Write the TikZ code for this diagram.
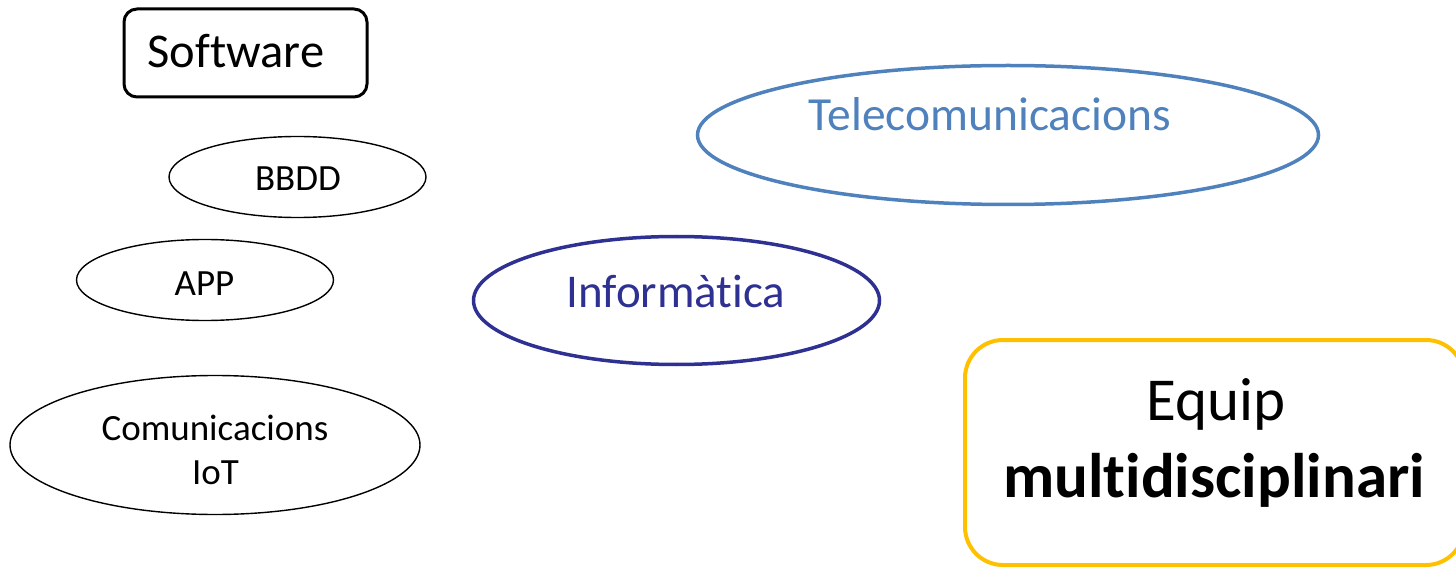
\documentclass[tikz,border=0pt]{standalone}
\usepackage{fontspec}
\setmainfont{Carlito}[Ligatures={NoCommon,NoRare,NoContextual}]
\usetikzlibrary{shapes.geometric}
\definecolor{telblue}{HTML}{4F81BD}
\definecolor{infblue}{HTML}{2E3192}
\definecolor{gold}{HTML}{FFC000}
\tikzset{
  lbl/.style={anchor=base, inner sep=0pt},
  oval/.style={ellipse, draw, inner sep=0pt},
  small/.style={lbl, font=\fontsize{37}{44}\selectfont},
}
\begin{document}
\begin{tikzpicture}[x=1pt, y=-1pt]
\useasboundingbox (0,0) rectangle (1456,569);
% Software box
\draw[line width=3pt, rounded corners=13pt] (124,9) rectangle (367,97);
\node[lbl, anchor=base west, font=\fontsize{48.5}{58}\selectfont] (sw) at (147.5,68) {Software};
% small ellipses
\node[oval, line width=1.4pt, minimum width=257pt, minimum height=81pt] (bbddE) at (297.5,177) {};
\node[small] (bbdd) at (298,191) {BBDD};
\node[oval, line width=1.4pt, minimum width=257pt, minimum height=81pt] (appE) at (205,280) {};
\node[small] (app) at (204.5,295) {APP};
\node[oval, line width=1.4pt, minimum width=410pt, minimum height=139pt] (comE) at (215,445) {};
\node[small] (com) at (215,440.5) {Comunicacions};
\node[small] (iot) at (215.5,484) {IoT};
% Telecomunicacions
\node[oval, draw=telblue, line width=3.5pt, minimum width=621pt, minimum height=139pt] (telE) at (1008,135) {};
\node[lbl, text=telblue, font=\fontsize{47.5}{57}\selectfont] (tel) at (990,131) {Telecomunicacions};
% Informatica
\node[oval, draw=infblue, line width=3.5pt, minimum width=406pt, minimum height=128pt] (infE) at (676.5,300.5) {};
\node[lbl, text=infblue, font=\fontsize{47}{56}\selectfont] (inf) at (676,308) {Informàtica};
% Equip multidisciplinari
\draw[gold, line width=4pt, rounded corners=38pt] (965,340) rectangle (1464,565);
\node[lbl, font=\fontsize{61}{73}\selectfont] (eq) at (1216,420) {Equip};
\node[lbl, font=\fontsize{63}{76}\selectfont\bfseries] (md) at (1214,497) {multidisciplinari};
\end{tikzpicture}
\end{document}
